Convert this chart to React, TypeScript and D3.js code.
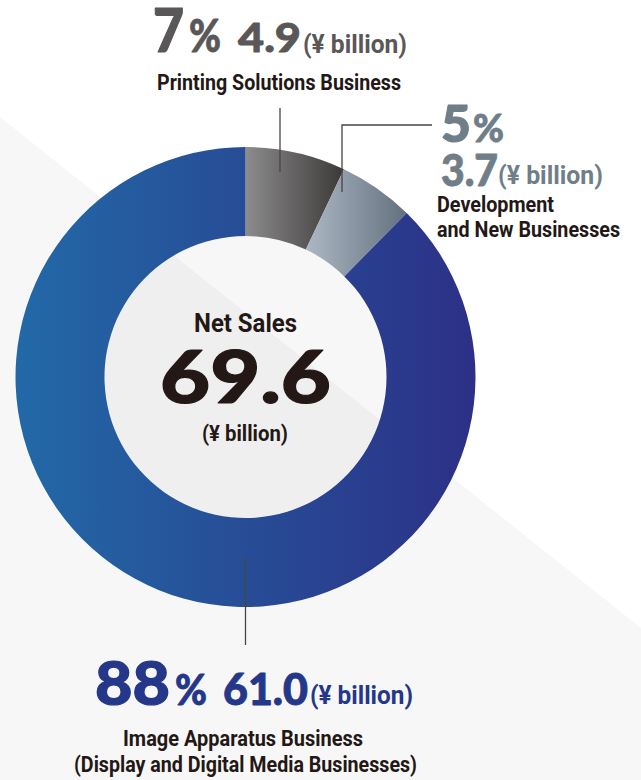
import React from 'react';
import * as d3 from 'd3';

// ---------- data ----------
const segmentNames = ['Printing Solutions Business', 'Development and New Businesses', 'Image Apparatus Business'];
const salesValues = [4.9, 3.7, 61.0]; // ¥ billion
const unitText = '(¥ billion)';
const centerTitle = 'Net Sales';
const labelLines = [
  ['Printing Solutions Business'],
  ['Development', 'and New Businesses'],
  ['Image Apparatus Business', '(Display and Digital Media Businesses)'],
];

// ---------- layout / style ----------
const W = 641;
const H = 780;
const CX = 245.5;
const CY = 377;
const R_OUT = 230;
const R_IN = 141;

const gradStops = [
  ['#8c8c8c', '#3c3838'],
  ['#adb8c4', '#63707e'],
  ['#2269a7', '#2c3086'],
];
const numColors = ['#595757', '#6f7e88', '#253789'];
const INK = '#231815';
const NUM_FONT = 'Lato, "DejaVu Sans", sans-serif';
const COND_FONT = 'Roboto, "Liberation Sans", sans-serif';

type TProps = {
  x: number; y: number; len: number; size: number; fill: string;
  family: string; weight?: number; adjust?: string; stroke?: number; children: React.ReactNode;
};
const T = ({ x, y, len, size, fill, family, weight = 700, adjust = 'spacingAndGlyphs', stroke = 0, children }: TProps) => (
  <text x={x} y={y} textLength={len} lengthAdjust={adjust} fontSize={size} fill={fill}
    stroke={stroke ? fill : 'none'} strokeWidth={stroke} strokeLinejoin="round"
    fontFamily={family} fontWeight={weight}>{children}</text>
);

export default function App() {
  const total = d3.sum(salesValues);
  const pie = d3.pie<number>().value((d) => d).sort(null);
  const arcs = pie(salesValues);
  const arcGen = d3.arc<d3.PieArcDatum<number>>().innerRadius(R_IN).outerRadius(R_OUT);
  const pct = salesValues.map((v) => d3.format('.0f')((v / total) * 100));
  const valTxt = salesValues.map((v) => d3.format('.1f')(v));
  const totalTxt = d3.format('.1f')(total);

  // diagonal background split
  const diag = [[0, 117], [W, 628], [W, H], [0, H]];

  return (
    <svg width={W} height={H} viewBox={`0 0 ${W} ${H}`}
      style={{ position: 'absolute', left: 0, top: 0, display: 'block', background: '#fff' }}>
      <defs>
        {gradStops.map((g, i) => (
          <linearGradient key={i} id={`seg-grad-${i}`} x1="0" y1="0" x2="1" y2="0">
            <stop offset="0" stopColor={g[0]} />
            <stop offset="1" stopColor={g[1]} />
          </linearGradient>
        ))}
      </defs>
      <rect x={0} y={0} width={W} height={H} fill="#ffffff" />
      <polygon points={diag.map((p) => p.join(',')).join(' ')} fill="#f7f7f7" />

      {/* donut */}
      <g transform={`translate(${CX},${CY})`}>
        {arcs.map((a, i) => (
          <path key={segmentNames[i]} d={arcGen(a) || ''} fill={`url(#seg-grad-${i})`} />
        ))}
        <circle r={R_IN} fill="#000" fillOpacity={0.032} />
      </g>

      {/* leader lines */}
      <g stroke="#4a4444" strokeWidth={1.3} fill="none">
        <line x1={280} y1={108} x2={280} y2={172} />
        <polyline points="432,125 342,125 342,192" />
        <line x1={CX} y1={557} x2={CX} y2={645} />
      </g>

      {/* center */}
      <T x={194} y={331.5} len={103} size={26} fill={INK} family={COND_FONT}>{centerTitle}</T>
      <T x={160} y={402.5} len={171} size={73} fill={INK} family={NUM_FONT} weight={900} stroke={1.2}>{totalTxt}</T>
      <T x={202} y={441} len={86} size={22} fill={INK} family={COND_FONT}>{unitText}</T>

      {/* Printing Solutions */}
      <T x={153} y={52} len={31} size={61} fill={numColors[0]} family={NUM_FONT} weight={900} stroke={1.2}>{pct[0]}</T>
      <T x={189} y={52} len={32} size={45} fill={numColors[0]} family={NUM_FONT} weight={900} stroke={0.8}>%</T>
      <T x={238} y={52} len={63} size={40} fill={numColors[0]} family={NUM_FONT} weight={900} stroke={0.8}>{valTxt[0]}</T>
      <T x={303} y={52.5} len={104} size={26} fill={numColors[0]} family={COND_FONT}>{unitText}</T>
      <T x={157} y={89.5} len={244} size={22} fill={INK} family={COND_FONT}>{labelLines[0][0]}</T>

      {/* Development */}
      <T x={441} y={142} len={30} size={51} fill={numColors[1]} family={NUM_FONT} weight={900} stroke={1.1}>{pct[1]}</T>
      <T x={473} y={142} len={31} size={38} fill={numColors[1]} family={NUM_FONT} weight={900} stroke={0.8}>%</T>
      <T x={441} y={185.5} len={57} size={44} fill={numColors[1]} family={NUM_FONT} weight={900} stroke={0.9}>{valTxt[1]}</T>
      <T x={498} y={183.5} len={105} size={26} fill={numColors[1]} family={COND_FONT}>{unitText}</T>
      <T x={437} y={211.5} len={117} size={22} fill={INK} family={COND_FONT}>{labelLines[1][0]}</T>
      <T x={437} y={237} len={183} size={22} fill={INK} family={COND_FONT}>{labelLines[1][1]}</T>

      {/* Image Apparatus */}
      <T x={95} y={704.5} len={75} size={60} fill={numColors[2]} family={NUM_FONT} weight={900} stroke={1.2}>{pct[2]}</T>
      <T x={175} y={704.5} len={32} size={42} fill={numColors[2]} family={NUM_FONT} weight={900} stroke={0.8}>%</T>
      <T x={223} y={704.5} len={85} size={44} fill={numColors[2]} family={NUM_FONT} weight={900} stroke={0.9}>{valTxt[2]}</T>
      <T x={310} y={703.5} len={103} size={26} fill={numColors[2]} family={COND_FONT}>{unitText}</T>
      <T x={123} y={746} len={240} size={22} fill={INK} family={COND_FONT}>{labelLines[2][0]}</T>
      <T x={74} y={771.5} len={343} size={22} fill={INK} family={COND_FONT}>{labelLines[2][1]}</T>
    </svg>
  );
}
